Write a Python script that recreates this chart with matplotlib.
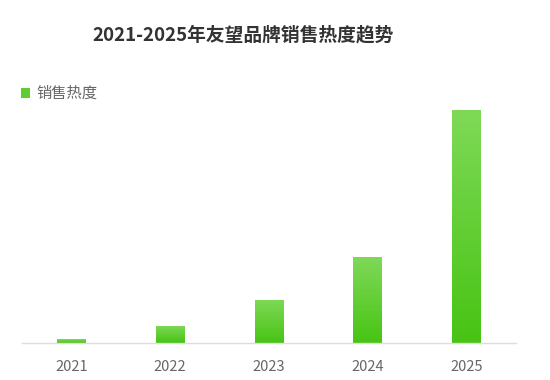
import matplotlib
matplotlib.use("Agg")
import matplotlib.pyplot as plt
import numpy as np
from matplotlib.colors import LinearSegmentedColormap
from matplotlib.patches import Rectangle

plt.rcParams['font.family'] = ['Noto Sans CJK SC', 'DejaVu Sans']

categories = ['2021', '2022', '2023', '2024', '2025']
values = [1.7, 7.3, 18.5, 36.9, 100]
series_name = '销售热度'
title = '2021-2025年友望品牌销售热度趋势'

fig = plt.figure(figsize=(5.5, 3.8), dpi=100)
ax = fig.add_axes([22/550, 37/380, 494/550, 233/380])

x = np.arange(len(categories))
bars = ax.bar(x, values, width=0.29, color='none', edgecolor='none', zorder=2)

cmap = LinearSegmentedColormap.from_list('g', ['#47c414', '#7fd957'])
grad = np.linspace(0, 1, 256).reshape(-1, 1)
for b in bars:
    bx, by = b.get_x(), b.get_y()
    w, h = b.get_width(), b.get_height()
    im = ax.imshow(grad, extent=[bx, bx + w, by, by + h], origin='lower',
                   cmap=cmap, aspect='auto', zorder=2)
    im.set_clip_path(b)

ax.set_xlim(-0.5, len(categories) - 0.5)
ax.set_ylim(0, 100)
ax.set_xticks(x)
ax.set_xticklabels(categories, fontsize=10.5, color='#666666')
ax.tick_params(axis='x', length=0, pad=12)
ax.set_yticks([])
for s in ['top', 'right', 'left']:
    ax.spines[s].set_visible(False)
ax.spines['bottom'].set_color('#dddddd')
ax.spines['bottom'].set_linewidth(1)

fig.text(243.5/550, 1 - 35/380, title, ha='center', va='center',
         fontsize=13.5, fontweight='heavy', color='#333333')

# legend
fig.patches.append(Rectangle((21/550, 1 - 98/380), 9/550, 10/380,
                             transform=fig.transFigure, facecolor='#5fcd32',
                             edgecolor='none'))
fig.text(36/550, 1 - 93/380, series_name, ha='left', va='center',
         fontsize=11, color='#666666')

fig.savefig('out.png', dpi=100)
